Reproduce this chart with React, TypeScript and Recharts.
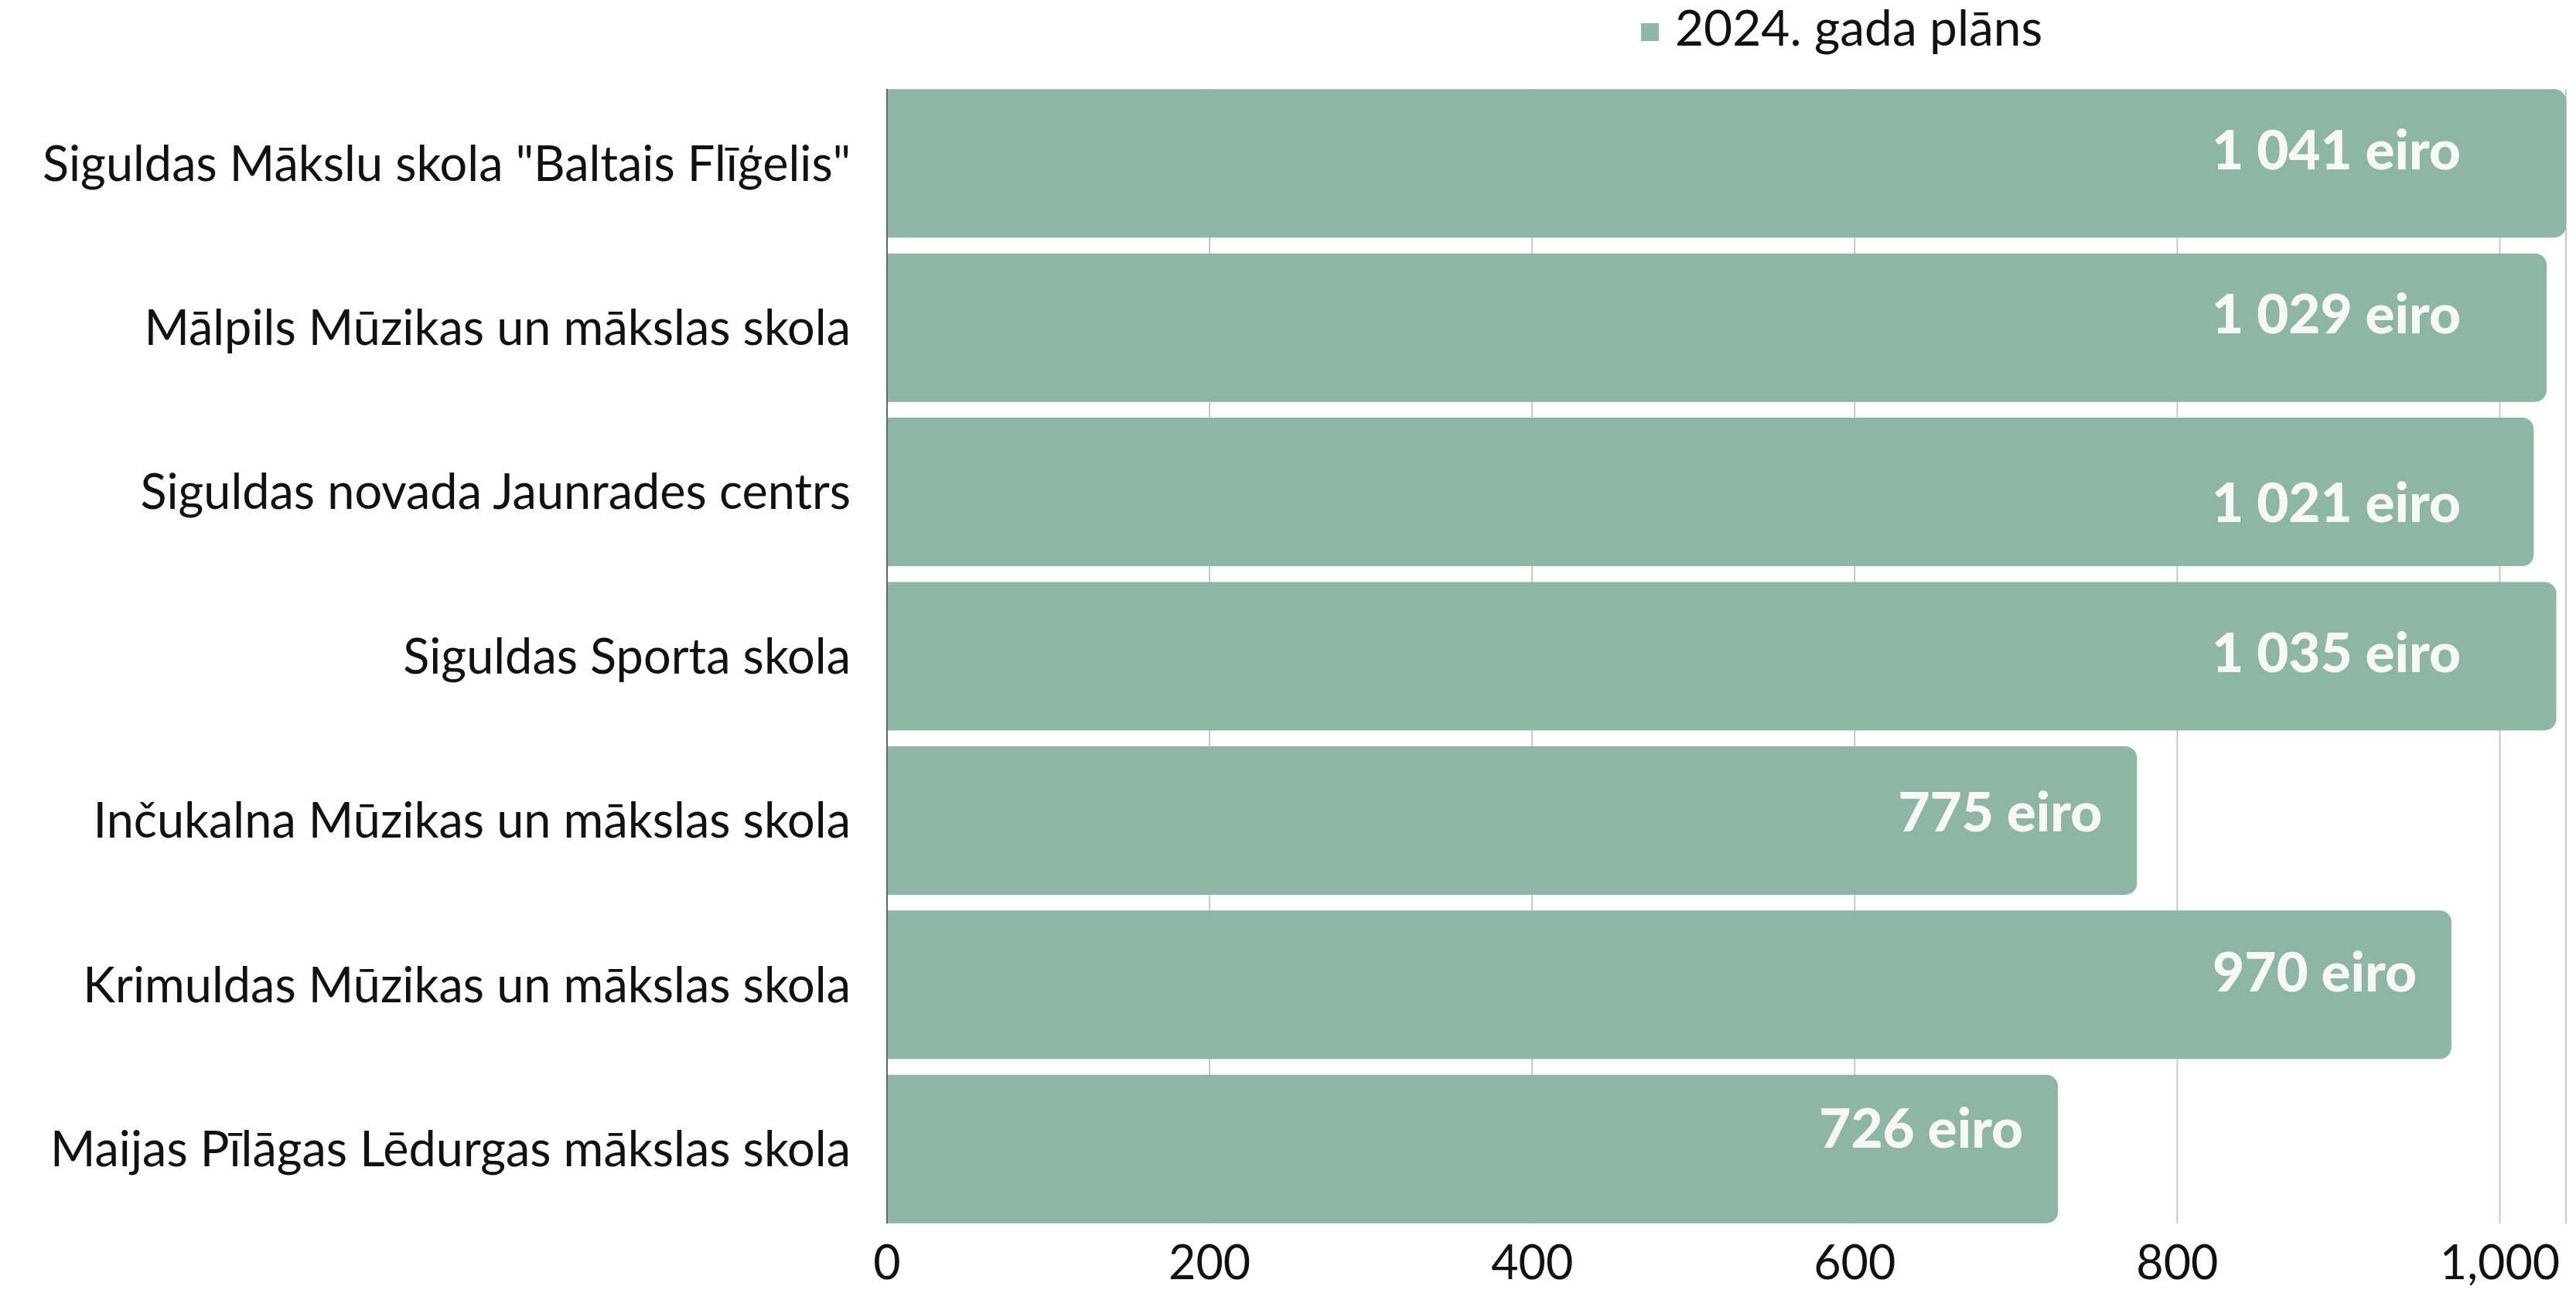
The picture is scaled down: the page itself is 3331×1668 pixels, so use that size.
import React from 'react';
import { BarChart, Bar, XAxis, YAxis, CartesianGrid, Legend, LabelList } from 'recharts';

const schools = [
  'Siguldas Mākslu skola "Baltais Flīģelis"',
  'Mālpils Mūzikas un mākslas skola',
  'Siguldas novada Jaunrades centrs',
  'Siguldas Sporta skola',
  'Inčukalna Mūzikas un mākslas skola',
  'Krimuldas Mūzikas un mākslas skola',
  'Maijas Pīlāgas Lēdurgas mākslas skola',
];
const plan2024 = [1041, 1029, 1021, 1035, 775, 970, 726];
const xTicks = [0, 200, 400, 600, 800, 1000];
const seriesName = '2024. gada plāns';

const data = schools.map((name, i) => ({ name, plan: plan2024[i] }));

const BAR_COLOR = '#8EB6A4';
const FONT = 'Lato, "Noto Sans", sans-serif';
// labels in the source sit a little off centre, and never go past this x
const labelNudge = [-17, -18, 14, -4, -11, -16, -27];
const LABEL_MAX_X = 3182;

const fmt = (v: number) =>
  v >= 1000 ? `${Math.floor(v / 1000)} ${String(v % 1000).padStart(3, '0')} eiro` : `${v} eiro`;

const ValueLabel = (props: any) => {
  const { x, y, width, height, value, index } = props;
  const tx = Math.min(x + width - 45, LABEL_MAX_X);
  const ty = y + height / 2 + (labelNudge[index] || 0);
  return (
    <text
      x={tx}
      y={ty}
      dy={25}
      textAnchor="end"
      fill="#F7F7F7"
      fontFamily={FONT}
      fontWeight={900}
      fontSize={71}
    >
      {fmt(value)}
    </text>
  );
};

const LegendContent = (props: any) => {
  const { payload = [] } = props;
  return (
    <div style={{ display: 'flex', alignItems: 'flex-start', fontFamily: FONT }}>
      {payload.map((p: any) => (
        <div key={p.value} style={{ display: 'flex', alignItems: 'flex-start' }}>
          <span style={{ width: 23, height: 23, background: p.color, marginTop: 33, marginRight: 21 }} />
          <span style={{ fontSize: 64, lineHeight: '76px', color: '#111' }}>{p.value}</span>
        </div>
      ))}
    </div>
  );
};

export default function App() {
  return (
    <div style={{ position: 'absolute', left: 0, top: 0, background: '#fff' }}>
      <BarChart
        width={3331}
        height={1668}
        data={data}
        layout="vertical"
        margin={{ top: 115, right: 13, bottom: 0, left: 0 }}
        barCategoryGap="4.8%"
      >
        <CartesianGrid horizontal={false} stroke="#C8C8C8" strokeWidth={2} />
        <XAxis
          type="number"
          domain={[0, 'dataMax']}
          ticks={xTicks}
          tickFormatter={(v: number) => v.toLocaleString('en-US')}
          height={86}
          axisLine={false}
          tickLine={false}
          tickSize={0}
          tickMargin={29}
          tick={{ fill: '#111', fontSize: 61, fontFamily: FONT }}
        />
        <YAxis
          type="category"
          dataKey="name"
          width={1147}
          padding={{ top: -10, bottom: -10 }}
          axisLine={{ stroke: '#666', strokeWidth: 2 }}
          tickLine={false}
          tickSize={0}
          tickMargin={47}
          tick={{ fill: '#111', fontSize: 63, fontFamily: FONT }}
        />
        <Legend
          verticalAlign="middle"
          align="center"
          content={LegendContent}
          wrapperStyle={{ top: -3, left: 2122, width: 800 }}
        />
        <Bar
          dataKey="plan"
          name={seriesName}
          fill={BAR_COLOR}
          radius={[0, 15, 15, 0]}
          isAnimationActive={false}
        >
          <LabelList dataKey="plan" content={ValueLabel} />
        </Bar>
      </BarChart>
    </div>
  );
}
